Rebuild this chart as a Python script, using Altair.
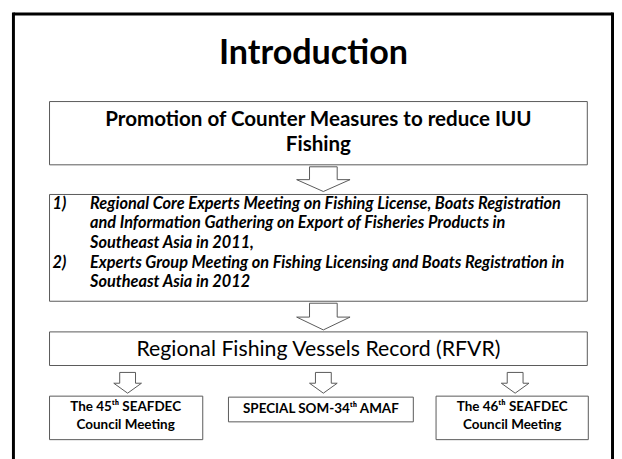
import altair as alt
import pandas as pd

# ---- text content ----
title_text = ["Introduction"]
box1_lines = ["Promotion of Counter Measures to reduce IUU", "Fishing"]
box2_numbers = ["1)", "2)"]
box2_lines = [
    "Regional Core Experts Meeting on Fishing License, Boats Registration",
    "and Information Gathering on Export of Fisheries Products in",
    "Southeast Asia in 2011,",
    "Experts Group Meeting on Fishing Licensing and Boats Registration in",
    "Southeast Asia in 2012",
]
box3_lines = ["Regional Fishing Vessels Record (RFVR)"]
bottom_lines = [
    ["The 45\u1d57\u02b0 SEAFDEC", "Council Meeting"],
    ["SPECIAL SOM-34\u1d57\u02b0 AMAF"],
    ["The 46\u1d57\u02b0 SEAFDEC", "Council Meeting"],
]

# ---- layout (screen pixel coordinates of the slide) ----
W, H = 612, 440
X0, Y0 = 8, 8
FONT = "Lato"

frame_segments = [  # x, x2, y, y2
    (13.5, 13.5, 8, 460),
    (13.5, 619.5, 9.5, 9.5),
    (619.5, 619.5, 8, 460),
]
boxes = [  # x, x2, y, y2
    (50, 594, 98, 162),
    (50, 594, 192, 300),
    (50, 594, 331, 365),
    (50, 205, 396, 440),
    (231, 418, 397, 422),
    (441, 595, 396, 440),
]
big_arrows = [(327, 164, 189), (327, 302, 329)]  # cx, top, bottom
small_arrows = [(129, 372, 393), (327, 372, 393), (521, 372, 393)]

title_pos = (317, 60)
box1_y = [117, 142]
box1_x = 322
box2_num_x = 53
box2_text_x = 91
box2_y = [201.5, 221.3, 241.1, 260.9, 280.7]
box2_num_rows = [0, 3]
box3_pos = (322, 355)
bottom_x = [127, 324.5, 518]
bottom_y = [[407, 425], [409], [407, 425]]

xs = alt.Scale(domain=[X0, X0 + W], range=[0, W])
ys = alt.Scale(domain=[Y0, Y0 + H], range=[0, H])


def X(field="x"):
    return alt.X(field, type="quantitative", scale=xs, axis=None)


def Y(field="y"):
    return alt.Y(field, type="quantitative", scale=ys, axis=None)


# frame
frame_df = pd.DataFrame(frame_segments, columns=["x", "x2", "y", "y2"])
frame = alt.Chart(frame_df).mark_rule(color="black", strokeWidth=3).encode(
    x=X(), x2="x2", y=Y(), y2="y2"
)

# boxes
box_df = pd.DataFrame(boxes, columns=["x", "x2", "y", "y2"])
box_layer = alt.Chart(box_df).mark_rect(
    fill="white", stroke="#595959", strokeWidth=1
).encode(x=X(), x2="x2", y=Y(), y2="y2")

# arrows (outlined block arrows)
rows = []
aid = 0
for arrows, sh, hh in ((big_arrows, 14, 27), (small_arrows, 8, 14)):
    for cx, top, bot in arrows:
        mid = top + (bot - top) * 0.52
        pts = [
            (cx - sh, top), (cx + sh, top), (cx + sh, mid), (cx + hh, mid),
            (cx, bot), (cx - hh, mid), (cx - sh, mid), (cx - sh, top),
        ]
        for i, (px, py) in enumerate(pts):
            rows.append({"id": aid, "o": i, "x": px, "y": py})
        aid += 1
arrow_df = pd.DataFrame(rows)
arrow_layer = alt.Chart(arrow_df).mark_line(
    color="#595959", strokeWidth=1, interpolate="linear"
).encode(x=X(), y=Y(), detail="id:N", order="o:Q")

# texts
title_df = pd.DataFrame({"x": [title_pos[0]], "y": [title_pos[1]], "t": title_text})
title = alt.Chart(title_df).mark_text(
    font=FONT, fontSize=34.5, fontWeight="bold", color="black", baseline="alphabetic"
).encode(x=X(), y=Y(), text="t:N")

b1_df = pd.DataFrame({"x": [box1_x] * 2, "y": box1_y, "t": box1_lines})
b1 = alt.Chart(b1_df).mark_text(
    font=FONT, fontSize=20.8, fontWeight="bold", color="black", baseline="middle"
).encode(x=X(), y=Y(), text="t:N")

b2_df = pd.DataFrame({"x": [box2_text_x] * 5, "y": box2_y, "t": box2_lines})
b2 = alt.Chart(b2_df).mark_text(
    font=FONT, fontSize=16.5, fontWeight="bold", fontStyle="italic",
    color="black", baseline="middle", align="left"
).encode(x=X(), y=Y(), text="t:N")

b2n_df = pd.DataFrame({"x": [box2_num_x] * 2,
                       "y": [box2_y[r] for r in box2_num_rows],
                       "t": box2_numbers})
b2n = alt.Chart(b2n_df).mark_text(
    font=FONT, fontSize=16.5, fontWeight="bold", fontStyle="italic",
    color="black", baseline="middle", align="left"
).encode(x=X(), y=Y(), text="t:N")

b3_df = pd.DataFrame({"x": [box3_pos[0]], "y": [box3_pos[1]], "t": box3_lines})
b3 = alt.Chart(b3_df).mark_text(
    font=FONT, fontSize=21.5, color="black", baseline="alphabetic"
).encode(x=X(), y=Y(), text="t:N")

brows = []
for bx, ylist, lines in zip(bottom_x, bottom_y, bottom_lines):
    for yy, tt in zip(ylist, lines):
        brows.append({"x": bx, "y": yy, "t": tt})
bb_df = pd.DataFrame(brows)
bb = alt.Chart(bb_df).mark_text(
    font=FONT, fontSize=13.6, fontWeight="bold", color="black", baseline="middle"
).encode(x=X(), y=Y(), text="t:N")

chart = alt.layer(frame, box_layer, arrow_layer, title, b1, b2, b2n, b3, bb).properties(
    width=W, height=H, padding=0, background="white"
).configure_view(stroke=None)

chart.save("out.html", embed_options={"renderer": "svg", "actions": False})
